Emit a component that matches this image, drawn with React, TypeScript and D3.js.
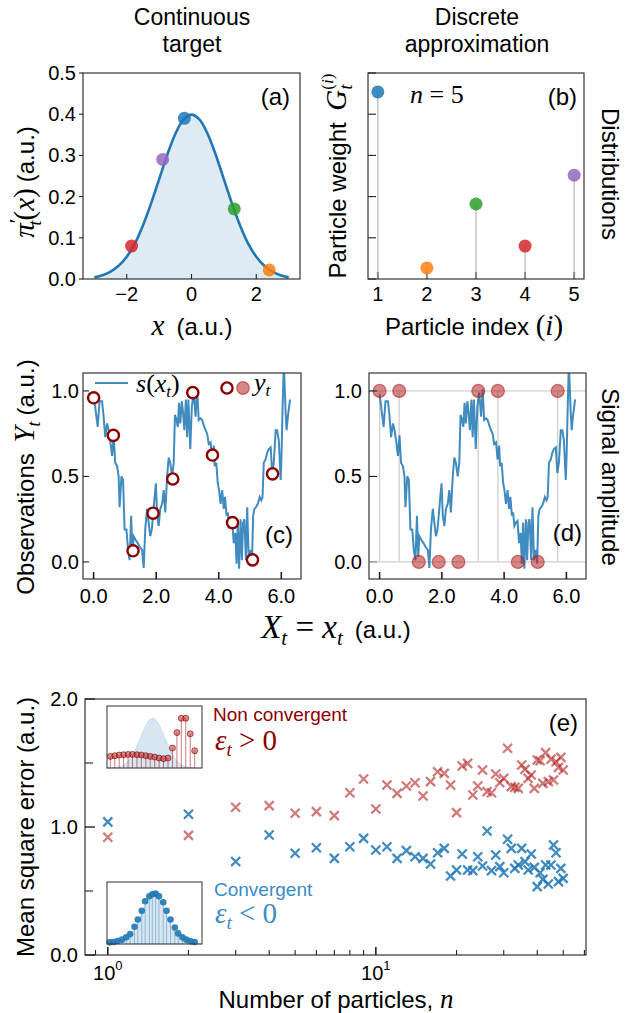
import React from "react";
import * as d3 from "d3";

// ---------------- data ----------------
// (a) continuous target density
const densityX = [-3, -2.75, -2.5, -2.25, -2, -1.75, -1.5, -1.25, -1, -0.75, -0.5, -0.25, 0, 0.25, 0.5, 0.75, 1, 1.25, 1.5, 1.75, 2, 2.25, 2.5, 2.75, 3];
const densityY = [0.004, 0.009, 0.018, 0.032, 0.054, 0.086, 0.130, 0.183, 0.242, 0.301, 0.352, 0.387, 0.399, 0.387, 0.352, 0.301, 0.242, 0.183, 0.130, 0.086, 0.054, 0.032, 0.018, 0.009, 0.004];
const particleX = [-0.22, 2.4, 1.32, -1.85, -0.89];
const particleDensity = [0.39, 0.022, 0.17, 0.08, 0.29];
const particleColors = ["#1f77b4", "#ff7f0e", "#2ca02c", "#d62728", "#9467bd"];
// (b) discrete approximation
const particleIndex = [1, 2, 3, 4, 5];
const particleWeight = [0.454, 0.027, 0.182, 0.080, 0.252];
const aYTicks = [0, 0.1, 0.2, 0.3, 0.4, 0.5];
const aXTicks = [-2, 0, 2];
// (c)/(d) signal s(x_t): [x, y]
const signal: [number, number][] = [
  [0.00, 0.98], [0.13, 0.79], [0.19, 0.94], [0.27, 0.94], [0.32, 0.85], [0.37, 0.73], [0.43, 0.81], [0.48, 0.77],
  [0.53, 0.71], [0.59, 0.62], [0.64, 0.74], [0.69, 0.58], [0.75, 0.56], [0.80, 0.50], [0.83, 0.32], [0.89, 0.50],
  [0.94, 0.48], [0.99, 0.19], [1.05, 0.19], [1.10, 0.07], [1.15, 0.01], [1.20, 0.27], [1.24, 0.03], [1.28, 0.15],
  [1.34, 0.13], [1.41, 0.11], [1.47, 0.09], [1.55, 0.07], [1.60, -0.035], [1.65, 0.19], [1.71, 0.31], [1.76, 0.23],
  [1.81, 0.15], [1.86, 0.19], [1.90, 0.27], [1.94, 0.36], [1.99, 0.46], [2.03, 0.27], [2.08, 0.21], [2.13, 0.31],
  [2.19, 0.34], [2.24, 0.42], [2.29, 0.29], [2.35, 0.50], [2.40, 0.61], [2.45, 0.58], [2.51, 0.50], [2.56, 0.58],
  [2.60, 0.86], [2.65, 0.83], [2.69, 0.79], [2.73, 0.93], [2.77, 0.81], [2.82, 0.94], [2.86, 0.87], [2.90, 0.77],
  [2.95, 0.95], [2.99, 0.73], [3.03, 0.95], [3.09, 0.66], [3.14, 0.91], [3.20, 0.99], [3.26, 0.85], [3.31, 1.01],
  [3.36, 0.83], [3.42, 0.84], [3.47, 0.83], [3.52, 0.80], [3.58, 0.77], [3.63, 0.75], [3.68, 0.69], [3.74, 0.70],
  [3.79, 0.60], [3.84, 0.68], [3.87, 0.56], [3.92, 0.58], [3.97, 0.46], [4.01, 0.42], [4.06, 0.34], [4.11, 0.42],
  [4.16, 0.31], [4.20, 0.38], [4.25, 0.27], [4.29, 0.29], [4.33, 0.21], [4.38, 0.23], [4.43, 0.24], [4.48, 0.11],
  [4.53, 0.17], [4.57, -0.01], [4.61, 0.23], [4.65, -0.04], [4.70, 0.25], [4.74, 0.01], [4.78, 0.23], [4.82, 0.25],
  [4.87, 0.01], [4.91, 0.32], [4.96, 0.01], [5.02, 0.07], [5.06, -0.01], [5.10, 0.27], [5.14, 0.31], [5.19, 0.32],
  [5.25, 0.34], [5.31, 0.38], [5.36, 0.36], [5.40, 0.38], [5.44, 0.58], [5.50, 0.60], [5.55, 0.64], [5.60, 0.66],
  [5.66, 0.67], [5.71, 0.52], [5.76, 0.58], [5.82, 0.77], [5.87, 0.77], [5.92, 0.71], [5.98, 0.48], [6.01, 0.64],
  [6.04, 0.89], [6.08, 1.16], [6.14, 0.87], [6.17, 0.77], [6.21, 0.85], [6.28, 0.95],
];
const obsX = [0, 0.63, 1.26, 1.90, 2.53, 3.17, 3.80, 4.44, 5.08, 5.72];
const obsY = [0.96, 0.74, 0.065, 0.285, 0.485, 0.99, 0.625, 0.23, 0.012, 0.515];
const obsBinary = [1, 1, 0, 0, 0, 1, 1, 0, 0, 1];
const cYTicks = [0, 0.5, 1];
const cXTicks = [0, 2, 4, 6];
// (e) mean square error vs number of particles
const nParticles = d3.range(1, 51);
const mseNonConvergent = [0.92, 0.935, 1.154, 1.167, 1.107, 1.12, 1.089, 1.268, 1.375, 1.141, 1.328, 1.263, 1.32, 1.346, 1.242, 1.354, 1.432, 1.419, 1.328, 1.112, 1.477, 1.497, 1.25, 1.32, 1.445, 1.276, 1.268, 1.414, 1.346, 1.38, 1.615, 1.315, 1.31, 1.302, 1.484, 1.45, 1.38, 1.406, 1.302, 1.523, 1.518, 1.341, 1.581, 1.354, 1.529, 1.367, 1.51, 1.466, 1.544, 1.445];
const mseConvergent = [1.04, 1.1, 0.73, 0.9375, 0.795, 0.838, 0.755, 0.846, 0.911, 0.82, 0.846, 0.755, 0.815, 0.768, 0.755, 0.711, 0.799, 0.833, 0.617, 0.664, 0.789, 0.664, 0.659, 0.768, 0.695, 0.969, 0.659, 0.781, 0.69, 0.643, 0.904, 0.833, 0.677, 0.703, 0.833, 0.729, 0.664, 0.789, 0.685, 0.534, 0.643, 0.591, 0.703, 0.555, 0.703, 0.859, 0.799, 0.573, 0.677, 0.599];
const eYTicks = [0, 1, 2];
const eYMinor = [0.5, 1.5];
const eXMajor = [1, 10];
const eXMinor = [0.9, 2, 3, 4, 5, 6, 7, 8, 9, 20, 30, 40, 50, 60];
// (e) insets
const insetDensityPos = [0, 0.05, 0.1, 0.15, 0.2, 0.25, 0.3, 0.35, 0.4, 0.45, 0.5, 0.55, 0.6, 0.65, 0.7, 0.75, 0.8, 0.85, 0.9, 0.95, 1];
const insetDensity = [0.001, 0.003, 0.009, 0.026, 0.066, 0.146, 0.275, 0.448, 0.63, 0.763, 0.8, 0.72, 0.559, 0.375, 0.217, 0.108, 0.047, 0.017, 0.006, 0.002, 0.0];
const badPos = [0.035, 0.082, 0.128, 0.175, 0.222, 0.268, 0.315, 0.362, 0.409, 0.455, 0.502, 0.549, 0.595, 0.642, 0.689, 0.736, 0.782, 0.829, 0.876, 0.923];
const badWeight = [0.187, 0.198, 0.209, 0.214, 0.219, 0.219, 0.214, 0.209, 0.198, 0.187, 0.176, 0.16, 0.15, 0.16, 0.321, 0.572, 0.802, 0.802, 0.551, 0.278];
const goodPos = [0.028, 0.07, 0.111, 0.157, 0.202, 0.244, 0.289, 0.324, 0.366, 0.401, 0.446, 0.477, 0.512, 0.547, 0.592, 0.627, 0.669, 0.714, 0.749, 0.794, 0.836, 0.882, 0.923];
const goodWeight = [0.027, 0.032, 0.048, 0.07, 0.107, 0.16, 0.278, 0.396, 0.535, 0.69, 0.77, 0.802, 0.813, 0.77, 0.674, 0.535, 0.396, 0.267, 0.171, 0.107, 0.07, 0.043, 0.032];

// ---------------- style ----------------
const SANS = "'Liberation Sans', Arial, Helvetica, sans-serif";
const SERIF = "'Liberation Serif', 'DejaVu Serif', serif";
const BLUE = "#1f77b4";
const FIRE = "#b22222";
const DARKRED = "#8b0000";
const TICK = 20;
const LAB = 24;
const TITLE = 23;

const Frame = ({ x0, x1, y0, y1 }: any) => (
  <rect x={x0} y={y0} width={x1 - x0} height={y1 - y0} fill="none" stroke="#222" strokeWidth={1.1} />
);

const Cross = ({ x, y, color, op }: any) => (
  <path d={`M${x - 4.5},${y - 4.5}L${x + 4.5},${y + 4.5}M${x - 4.5},${y + 4.5}L${x + 4.5},${y - 4.5}`} stroke={color} strokeOpacity={op} strokeWidth={2.3} fill="none" />
);

export default function App() {
  // panel a
  const ax = d3.scaleLinear().domain([-3.35, 3.35]).range([83, 300]);
  const ay = d3.scaleLinear().domain([0, 0.5]).range([279, 73]);
  const aArea = d3.area<number>().x((_, i) => ax(densityX[i])).y0(ay(0)).y1((d) => ay(d)).curve(d3.curveCatmullRom)(densityY) || "";
  const aLine = d3.line<number>().x((_, i) => ax(densityX[i])).y((d) => ay(d)).curve(d3.curveCatmullRom)(densityY) || "";
  // panel b
  const bx = d3.scaleLinear().domain([0.8, 5.2]).range([368, 584]);
  const by = d3.scaleLinear().domain([0, 0.5]).range([279, 73]);
  // panel c/d
  const cx = d3.scaleLinear().domain([-0.34, 6.63]).range([83, 301]);
  const dx = d3.scaleLinear().domain([-0.34, 6.63]).range([369, 586]);
  const cy = d3.scaleLinear().domain([-0.1, 1.105]).range([579, 373]);
  const cLine = d3.line<[number, number]>().x((d) => cx(d[0])).y((d) => cy(d[1]))(signal) || "";
  const dLine = d3.line<[number, number]>().x((d) => dx(d[0])).y((d) => cy(d[1]))(signal) || "";
  // panel e
  const ex = d3.scaleLog().domain([Math.pow(10, -0.085), Math.pow(10, 1.784)]).range([85, 586]);
  const ey = d3.scaleLinear().domain([0, 2]).range([955, 699]);
  const fmt1 = d3.format(".1f");
  const minus = (v: number) => (v < 0 ? "\u2212" + Math.abs(v) : String(v));

  const insets = [
    { y0: 706, y1: 768, kind: "bad" },
    { y0: 882, y1: 944, kind: "good" },
  ];

  return (
    <svg width={639} height={1013} style={{ position: "absolute", left: 0, top: 0, background: "#fff" }} fontFamily={SANS}>
      <defs>
        <clipPath id="clipC"><rect x={83} y={373} width={218} height={206} /></clipPath>
        <clipPath id="clipD"><rect x={369} y={373} width={217} height={206} /></clipPath>
      </defs>
      <rect x={0} y={0} width={639} height={1013} fill="#fff" />

      {/* titles */}
      <text x={192} y={25} textAnchor="middle" fontSize={TITLE}>Continuous</text>
      <text x={192} y={52} textAnchor="middle" fontSize={TITLE}>target</text>
      <text x={477} y={25} textAnchor="middle" fontSize={TITLE}>Discrete</text>
      <text x={477} y={52} textAnchor="middle" fontSize={TITLE}>approximation</text>

      {/* ---------- panel a ---------- */}
      <path d={aArea} fill={BLUE} fillOpacity={0.15} />
      <path d={aLine} fill="none" stroke={BLUE} strokeWidth={2.6} />
      {particleX.map((x, i) => (
        <circle key={i} cx={ax(x)} cy={ay(particleDensity[i])} r={6.5} fill={particleColors[i]} fillOpacity={0.85} />
      ))}
      <Frame x0={83} x1={300} y0={73} y1={279} />
      {aYTicks.map((v) => (
        <g key={v}>
          <line x1={79} x2={83} y1={ay(v)} y2={ay(v)} stroke="#222" strokeWidth={1.1} />
          <text x={76} y={ay(v)} dy="0.35em" textAnchor="end" fontSize={TICK}>{fmt1(v)}</text>
        </g>
      ))}
      {aXTicks.map((v) => (
        <g key={v}>
          <line x1={ax(v)} x2={ax(v)} y1={279} y2={274} stroke="#222" strokeWidth={1.1} />
          <text x={ax(v)} y={301} textAnchor="middle" fontSize={TICK}>{minus(v)}</text>
        </g>
      ))}
      <text x={290} y={105} textAnchor="end" fontSize={LAB}>(a)</text>
      <text x={192} y={335} textAnchor="middle" fontSize={LAB}>
        <tspan fontFamily={SERIF} fontStyle="italic" fontSize={29}>x</tspan>
        <tspan dx={12}>(a.u.)</tspan>
      </text>
      <text transform="translate(34,182) rotate(-90)" textAnchor="middle" fontSize={LAB}>
        <tspan fontFamily={SERIF} fontStyle="italic" fontSize={29}>π</tspan>
        <tspan fontFamily={SERIF} fontSize={22} dy={-10}>′</tspan>
        <tspan fontFamily={SERIF} fontStyle="italic" fontSize={18} dx={-7} dy={17}>t</tspan>
        <tspan fontFamily={SERIF} fontSize={29} dy={-7}>(</tspan>
        <tspan fontFamily={SERIF} fontStyle="italic" fontSize={29}>x</tspan>
        <tspan fontFamily={SERIF} fontSize={29}>)</tspan>
        <tspan dx={6}>(a.u.)</tspan>
      </text>

      {/* ---------- panel b ---------- */}
      {particleIndex.map((p, i) => (
        <g key={p}>
          <line x1={bx(p)} x2={bx(p)} y1={by(0)} y2={by(particleWeight[i])} stroke="#c8c8c8" strokeWidth={1.6} />
          <line x1={bx(p)} x2={bx(p)} y1={by(0)} y2={by(0) - 7} stroke="#888" strokeWidth={2} />
          <circle cx={bx(p)} cy={by(particleWeight[i])} r={6.5} fill={particleColors[i]} fillOpacity={0.85} />
        </g>
      ))}
      <Frame x0={368} x1={584} y0={73} y1={279} />
      {aYTicks.map((v) => (
        <line key={v} x1={368} x2={376} y1={by(v)} y2={by(v)} stroke="#222" strokeWidth={1.1} />
      ))}
      {particleIndex.map((p) => (
        <text key={p} x={bx(p)} y={301} textAnchor="middle" fontSize={TICK}>{p}</text>
      ))}
      <text x={577} y={105} textAnchor="end" fontSize={LAB}>(b)</text>
      <text x={410} y={103} fontFamily={SERIF} fontSize={26}>
        <tspan fontStyle="italic">n</tspan>
        <tspan> = 5</tspan>
      </text>
      <text x={474} y={335} textAnchor="middle" fontSize={LAB}>
        <tspan>Particle index </tspan>
        <tspan fontFamily={SERIF} fontSize={29}>(</tspan>
        <tspan fontFamily={SERIF} fontStyle="italic" fontSize={29}>i</tspan>
        <tspan fontFamily={SERIF} fontSize={29}>)</tspan>
      </text>
      <text transform="translate(346,176) rotate(-90)" textAnchor="middle" fontSize={LAB}>
        <tspan>Particle weight </tspan>
        <tspan fontFamily={SERIF} fontStyle="italic" fontSize={29} dx={5}>G</tspan>
        <tspan fontFamily={SERIF} fontSize={17} dy={-13}>(</tspan>
        <tspan fontFamily={SERIF} fontStyle="italic" fontSize={17}>i</tspan>
        <tspan fontFamily={SERIF} fontSize={17}>)</tspan>
        <tspan fontFamily={SERIF} fontStyle="italic" fontSize={18} dx={-16} dy={19}>t</tspan>
      </text>
      <text transform="translate(610,174) rotate(90)" textAnchor="middle" dy="0.35em" fontSize={LAB}>Distributions</text>

      {/* ---------- panel c ---------- */}
      <path d={cLine} fill="none" stroke={BLUE} strokeOpacity={0.85} strokeWidth={2} clipPath="url(#clipC)" />
      {obsX.map((x, i) => (
        <circle key={i} cx={cx(x)} cy={cy(obsY[i])} r={5.6} fill="#fff" stroke={DARKRED} strokeWidth={2.4} />
      ))}
      <Frame x0={83} x1={301} y0={373} y1={579} />
      {cYTicks.map((v) => (
        <g key={v}>
          <line x1={83} x2={89} y1={cy(v)} y2={cy(v)} stroke="#222" strokeWidth={1.1} />
          <text x={79} y={cy(v)} dy="0.35em" textAnchor="end" fontSize={TICK}>{fmt1(v)}</text>
        </g>
      ))}
      {cXTicks.map((v) => (
        <g key={v}>
          <line x1={cx(v)} x2={cx(v)} y1={579} y2={572} stroke="#222" strokeWidth={1.6} />
          <text x={cx(v)} y={603} textAnchor="middle" fontSize={TICK}>{fmt1(v)}</text>
        </g>
      ))}
      {/* legend */}
      <line x1={95} x2={128} y1={383} y2={383} stroke={BLUE} strokeOpacity={0.85} strokeWidth={2} />
      <text x={136} y={392} fontFamily={SERIF} fontSize={26}>
        <tspan fontStyle="italic">s</tspan>
        <tspan>(</tspan>
        <tspan fontStyle="italic">x</tspan>
        <tspan fontStyle="italic" fontSize={17} dy={5}>t</tspan>
        <tspan dy={-5}>)</tspan>
      </text>
      <circle cx={227} cy={388} r={5.6} fill="#fff" stroke={DARKRED} strokeWidth={2.4} />
      <circle cx={243} cy={388} r={6.3} fill={FIRE} fillOpacity={0.55} stroke={FIRE} strokeOpacity={0.6} strokeWidth={1.2} />
      <text x={254} y={391} fontFamily={SERIF} fontSize={26}>
        <tspan fontStyle="italic">y</tspan>
        <tspan fontStyle="italic" fontSize={17} dy={5}>t</tspan>
      </text>
      <text x={293} y={543} textAnchor="end" fontSize={LAB}>(c)</text>
      <text transform="translate(34,477) rotate(-90)" textAnchor="middle" fontSize={LAB}>
        <tspan>Observations </tspan>
        <tspan fontFamily={SERIF} fontStyle="italic" fontSize={29} dx={4}>Y</tspan>
        <tspan fontFamily={SERIF} fontStyle="italic" fontSize={18} dy={6}>t</tspan>
        <tspan dy={-6} dx={6}>(a.u.)</tspan>
      </text>

      {/* ---------- panel d ---------- */}
      {[0, 1].map((v) => (
        <line key={v} x1={369} x2={586} y1={cy(v)} y2={cy(v)} stroke="#d0d0d0" strokeWidth={1.3} />
      ))}
      {obsX.map((x, i) => obsBinary[i] === 1 ? (
        <line key={i} x1={dx(x)} x2={dx(x)} y1={cy(0)} y2={cy(1)} stroke="#d0d0d0" strokeWidth={1.3} />
      ) : null)}
      <path d={dLine} fill="none" stroke={BLUE} strokeOpacity={0.85} strokeWidth={2} clipPath="url(#clipD)" />
      {obsX.map((x, i) => (
        <circle key={i} cx={dx(x)} cy={cy(obsBinary[i])} r={6.5} fill={FIRE} fillOpacity={0.55} stroke={FIRE} strokeOpacity={0.6} strokeWidth={1.2} />
      ))}
      <Frame x0={369} x1={586} y0={373} y1={579} />
      {cYTicks.map((v) => (
        <g key={v}>
          <line x1={369} x2={377} y1={cy(v)} y2={cy(v)} stroke={v === 0 ? "#888" : "#222"} strokeWidth={1.1} />
          <text x={362} y={cy(v)} dy="0.35em" textAnchor="end" fontSize={TICK}>{fmt1(v)}</text>
        </g>
      ))}
      {cXTicks.map((v) => (
        <g key={v}>
          <line x1={dx(v)} x2={dx(v)} y1={579} y2={572} stroke="#222" strokeWidth={1.6} />
          <text x={dx(v)} y={603} textAnchor="middle" fontSize={TICK}>{fmt1(v)}</text>
        </g>
      ))}
      <text x={582} y={541} textAnchor="end" fontSize={LAB}>(d)</text>
      <text transform="translate(610,477) rotate(90)" textAnchor="middle" dy="0.35em" fontSize={LAB}>Signal amplitude</text>
      <text x={336} y={638} textAnchor="middle" fontSize={LAB}>
        <tspan fontFamily={SERIF} fontStyle="italic" fontSize={33}>X</tspan>
        <tspan fontFamily={SERIF} fontStyle="italic" fontSize={21} dy={7}>t</tspan>
        <tspan fontFamily={SERIF} fontSize={33} dy={-7}> = </tspan>
        <tspan fontFamily={SERIF} fontStyle="italic" fontSize={33}>x</tspan>
        <tspan fontFamily={SERIF} fontStyle="italic" fontSize={21} dy={7}>t</tspan>
        <tspan dy={-7} dx={12}>(a.u.)</tspan>
      </text>

      {/* ---------- panel e ---------- */}
      {nParticles.map((n, i) => (
        <Cross key={"r" + n} x={ex(n)} y={ey(mseNonConvergent[i])} color={FIRE} op={0.6} />
      ))}
      {nParticles.map((n, i) => (
        <Cross key={"b" + n} x={ex(n)} y={ey(mseConvergent[i])} color={BLUE} op={0.85} />
      ))}
      {insets.map((ins) => {
        const ix = d3.scaleLinear().domain([0, 1]).range([107, 202]);
        const iy = d3.scaleLinear().domain([0, 1]).range([ins.y1, ins.y0]);
        const shift = ins.kind === "bad" ? -0.01 : 0;
        const area = d3.area<number>().x((_, i) => ix(insetDensityPos[i] + shift)).y0(iy(0)).y1((d) => iy(d)).curve(d3.curveCatmullRom)(insetDensity) || "";
        const pos = ins.kind === "bad" ? badPos : goodPos;
        const w = ins.kind === "bad" ? badWeight : goodWeight;
        return (
          <g key={ins.kind}>
            <rect x={107} y={ins.y0} width={95} height={ins.y1 - ins.y0} fill="#fff" />
            <path d={area} fill={BLUE} fillOpacity={0.18} stroke={BLUE} strokeOpacity={0.15} strokeWidth={1} />
            {pos.map((p, i) => (
              <g key={i}>
                <line x1={ix(p)} x2={ix(p)} y1={iy(0)} y2={iy(w[i])} stroke={ins.kind === "bad" ? FIRE : BLUE} strokeOpacity={ins.kind === "bad" ? 0.6 : 0.4} strokeWidth={1} />
                {ins.kind === "bad" ? (
                  <circle cx={ix(p)} cy={iy(w[i])} r={3} fill={FIRE} fillOpacity={0.5} stroke={DARKRED} strokeOpacity={0.7} strokeWidth={0.9} />
                ) : (
                  <circle cx={ix(p)} cy={iy(w[i])} r={3.3} fill={BLUE} fillOpacity={0.9} />
                )}
              </g>
            ))}
            <rect x={107} y={ins.y0} width={95} height={ins.y1 - ins.y0} fill="none" stroke="#333" strokeWidth={1} />
          </g>
        );
      })}
      <Frame x0={85} x1={586} y0={699} y1={955} />
      {eYTicks.map((v) => (
        <g key={v}>
          <line x1={85} x2={95} y1={ey(v)} y2={ey(v)} stroke="#222" strokeWidth={1.4} />
          <text x={78} y={ey(v)} dy="0.35em" textAnchor="end" fontSize={TICK}>{fmt1(v)}</text>
        </g>
      ))}
      {eYMinor.map((v) => (
        <line key={v} x1={85} x2={93} y1={ey(v)} y2={ey(v)} stroke="#222" strokeWidth={1.1} />
      ))}
      {eXMajor.map((v, i) => (
        <g key={v}>
          <line x1={ex(v)} x2={ex(v)} y1={955} y2={947} stroke="#222" strokeWidth={1.6} />
          <text x={ex(v)} y={980} textAnchor="middle" fontSize={TICK}>
            <tspan>10</tspan>
            <tspan fontSize={13} dy={-10}>{i}</tspan>
          </text>
        </g>
      ))}
      {eXMinor.map((v) => (
        <line key={v} x1={ex(v)} x2={ex(v)} y1={955} y2={950} stroke="#222" strokeWidth={1.1} />
      ))}
      <text x={578} y={731} textAnchor="end" fontSize={LAB}>(e)</text>
      <text x={213} y={721} fontSize={19} fill={DARKRED}>Non convergent</text>
      <text x={215} y={750} fontFamily={SERIF} fontSize={29} fill={DARKRED}>
        <tspan fontStyle="italic">ε</tspan>
        <tspan fontStyle="italic" fontSize={19} dy={6}>t</tspan>
        <tspan dy={-6}> &gt; 0</tspan>
      </text>
      <text x={214} y={896} fontSize={19} fill="#3a8cc8">Convergent</text>
      <text x={215} y={923} fontFamily={SERIF} fontSize={29} fill="#3a8cc8">
        <tspan fontStyle="italic">ε</tspan>
        <tspan fontStyle="italic" fontSize={19} dy={6}>t</tspan>
        <tspan dy={-6}> &lt; 0</tspan>
      </text>
      <text transform="translate(34,827) rotate(-90)" textAnchor="middle" fontSize={LAB}>Mean square error (a.u.)</text>
      <text x={336} y={1008} textAnchor="middle" fontSize={LAB}>
        <tspan>Number of particles, </tspan>
        <tspan fontFamily={SERIF} fontStyle="italic" fontSize={27}>n</tspan>
      </text>
    </svg>
  );
}
